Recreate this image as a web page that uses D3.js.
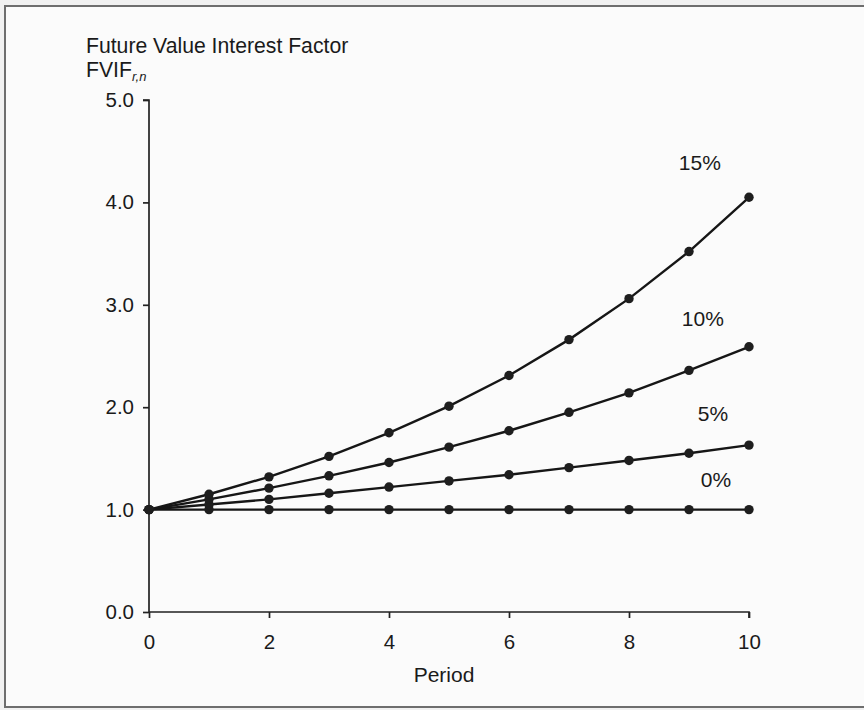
<!DOCTYPE html>
<html>
<head>
<meta charset="utf-8">
<script src="https://cdn.jsdelivr.net/npm/d3@7"></script>
<style>
  html, body { margin: 0; padding: 0; background: #f3f3f3; }
  svg { display: block; }
  text { font-family: "Liberation Sans", Arial, sans-serif; fill: #1a1a1a; }
</style>
</head>
<body>
<svg id="chart" width="864" height="710"></svg>
<script>
const periods = [0, 1, 2, 3, 4, 5, 6, 7, 8, 9, 10];
const rateLabels = ["0%", "5%", "10%", "15%"];
const fvif0  = [1.00, 1.00, 1.00, 1.00, 1.00, 1.00, 1.00, 1.00, 1.00, 1.00, 1.00];
const fvif5  = [1.00, 1.05, 1.10, 1.16, 1.22, 1.28, 1.34, 1.41, 1.48, 1.55, 1.63];
const fvif10 = [1.00, 1.10, 1.21, 1.33, 1.46, 1.61, 1.77, 1.95, 2.14, 2.36, 2.59];
const fvif15 = [1.00, 1.15, 1.32, 1.52, 1.75, 2.01, 2.31, 2.66, 3.06, 3.52, 4.05];
const xTicks = [0, 2, 4, 6, 8, 10];
const yTicks = [0, 1, 2, 3, 4, 5];

const seriesList = [fvif0, fvif5, fvif10, fvif15];

const svg = d3.select("#chart");

// page frame
svg.append("rect").attr("x", 0).attr("y", 0).attr("width", 864).attr("height", 710).attr("fill", "#f1f1f1");
svg.append("rect").attr("x", 5).attr("y", 6).attr("width", 870).attr("height", 701)
  .attr("fill", "#fbfbfb").attr("stroke", "#6e6e6e").attr("stroke-width", 2);

const x = d3.scaleLinear().domain([0, 10]).range([149, 749]);
const y = d3.scaleLinear().domain([0, 5]).range([612, 100]);

const FS = "20.5px";

// axes
const yAxis = d3.axisLeft(y).tickValues(yTicks).tickFormat(d3.format(".1f")).tickSize(6).tickPadding(9);
const gy = svg.append("g").attr("transform", `translate(${x(0)},0)`).call(yAxis);
gy.select(".domain").attr("stroke", "#222").attr("stroke-width", 1.7).attr("d", `M-6,${y(5)}H0V${y(0)}`);
gy.selectAll(".tick line").attr("stroke", "#222").attr("stroke-width", 1.7);
gy.selectAll(".tick text").style("font-size", FS).style("font-family", "Liberation Sans, Arial, sans-serif").attr("fill", "#1a1a1a");

const xAxis = d3.axisBottom(x).tickValues(xTicks).tickFormat(d3.format("d")).tickSize(6).tickPadding(16);
const gx = svg.append("g").attr("transform", `translate(0,${y(0)})`).call(xAxis);
gx.select(".domain").attr("stroke", "#222").attr("stroke-width", 1.7).attr("d", `M${x(0)},0H${x(10)}V6`);
gx.selectAll(".tick line").attr("stroke", "#222").attr("stroke-width", 1.7);
gx.selectAll(".tick text").style("font-size", FS).style("font-family", "Liberation Sans, Arial, sans-serif").attr("fill", "#1a1a1a");

// lines and points
const line = d3.line().x((d, i) => x(periods[i])).y(d => y(d));
seriesList.forEach(s => {
  svg.append("path").datum(s).attr("d", line)
    .attr("fill", "none").attr("stroke", "#161616").attr("stroke-width", 2.4);
  svg.append("g").selectAll("circle").data(s).join("circle")
    .attr("cx", (d, i) => x(periods[i])).attr("cy", d => y(d)).attr("r", 4.7)
    .attr("fill", "#1e1e1e");
});

// series labels
const labelPos = [[9.45, 0.29 + fvif0[10]], [9.4, 0.31 + fvif5[10]], [9.23, 0.28 + fvif10[10]], [9.18, 0.34 + fvif15[10]]];
rateLabels.forEach((lab, i) => {
  svg.append("text").attr("x", x(labelPos[i][0])).attr("y", y(labelPos[i][1]))
    .attr("text-anchor", "middle").attr("dominant-baseline", "central")
    .style("font-size", "21px").text(lab);
});

// titles
svg.append("text").attr("x", 86).attr("y", 53).style("font-size", "21.2px").text("Future Value Interest Factor");
const t2 = svg.append("text").attr("x", 86).attr("y", 77).style("font-size", "21.2px");
t2.append("tspan").text("FVIF");
t2.append("tspan").attr("dy", 4).style("font-size", "13px").style("font-style", "italic").text("r,n");

svg.append("text").attr("x", 444).attr("y", 682).attr("text-anchor", "middle").style("font-size", "21px").text("Period");
</script>
</body>
</html>
